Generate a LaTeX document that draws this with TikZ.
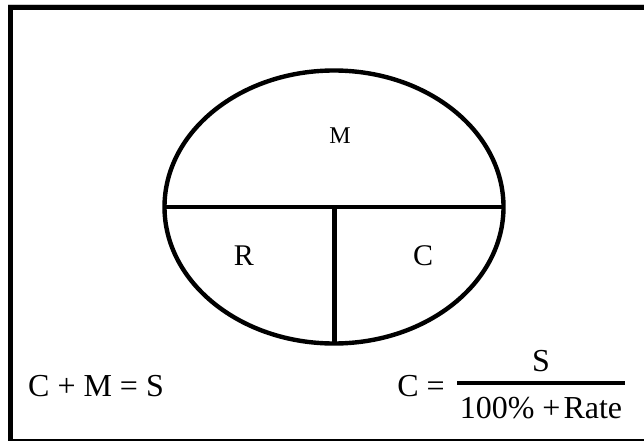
\documentclass[tikz,border=0pt]{standalone}
\usepackage{fontspec}
\setmainfont{Liberation Serif}
\begin{document}
\begin{tikzpicture}[x=1pt,y=-1pt,
  frame/.style={line width=5pt,black},
  thinframe/.style={line width=1.2pt,black},
  part/.style={line width=4.4pt,black},
  lbl/.style={inner sep=0pt,font=\fontsize{30}{32}\selectfont},
  smalllbl/.style={inner sep=0pt,font=\fontsize{24}{26}\selectfont},
  eq/.style={inner sep=0pt,font=\fontsize{32}{34}\selectfont}]
\useasboundingbox (0,0) rectangle (644,441);
% frame
\coordinate (fbl) at (10.5,440);
\coordinate (ftl) at (10.5,7.5);
\coordinate (ftr) at (644,7.5);
\coordinate (fbr) at (644,440);
\draw[gray!40,line width=0.8pt] (8,4) -- (644,4);
\draw[frame] (fbl) -- (ftl) -- (ftr);
\draw[thinframe] (8,440) -- (fbr);
% ellipse
\coordinate (ctr) at (334,207);
\draw[part] (ctr) ellipse [x radius=169.5, y radius=136.5];
\coordinate (hl) at (164.5,207);
\coordinate (hr) at (503.5,207);
\coordinate (vb) at (334.5,343.5);
\draw[part] (hl) -- (hr);
\draw[part] (334.5,207) coordinate (vt) -- (vb);
% labels
\node[smalllbl] (m) at (340,136) {M};
\node[lbl] (r) at (244,256) {R};
\node[lbl] (c) at (423,256) {C};
% equations
\node[eq] (eq1) at (96,386) {C + M = S};
\node[eq] (ceq) at (421,386) {C =};
\node[eq] (num) at (541,361) {S};
\coordinate (bl) at (457,383);
\coordinate (br) at (625,383);
\draw[line width=4.5pt] (bl) -- (br);
\node[eq] (den) at (541,408) {100\% +\kern3pt Rate};
\end{tikzpicture}
\end{document}
